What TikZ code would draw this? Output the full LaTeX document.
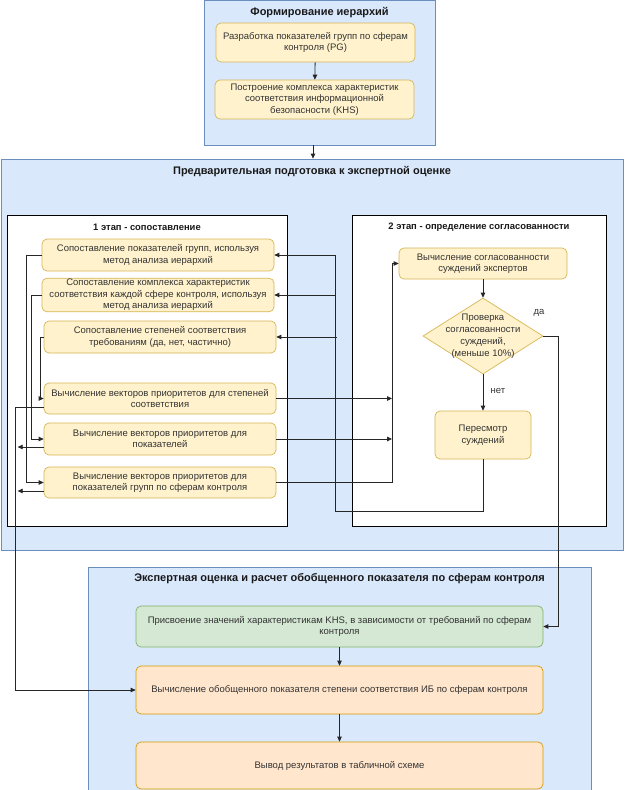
\documentclass[tikz,border=0pt]{standalone}
\usepackage{fontspec}
\setmainfont{Liberation Sans}
\usetikzlibrary{arrows.meta,shapes.geometric,calc}
\definecolor{bluef}{HTML}{DAE8FC}
\definecolor{blued}{HTML}{6C8EBF}
\definecolor{yelf}{HTML}{FFF2CC}
\definecolor{yeld}{HTML}{D6B656}
\definecolor{grf}{HTML}{D5E8D4}
\definecolor{grd}{HTML}{82B366}
\definecolor{orf}{HTML}{FFE6CC}
\definecolor{ord}{HTML}{D79B00}
\definecolor{txt}{HTML}{333333}
\tikzset{
  container/.style={draw=blued, fill=bluef, line width=0.8pt, inner sep=0pt},
  stagebox/.style={draw=black, fill=white, line width=0.9pt, inner sep=0pt},
  basebox/.style={rounded corners=5pt, line width=0.7pt, align=center,
    font=\fontsize{9.5}{11.5}\selectfont, text=txt, inner sep=1pt},
  ybox/.style={basebox, draw=yeld, fill=yelf},
  gbox/.style={basebox, draw=grd, fill=grf},
  obox/.style={basebox, draw=ord, fill=orf},
  decision/.style={diamond, draw=yeld, fill=yelf, line width=0.7pt, inner sep=0pt},
  dtext/.style={align=center, font=\fontsize{9.5}{12}\selectfont, text=txt, inner sep=0pt},
  maintitle/.style={font=\bfseries\fontsize{11}{13}\selectfont, text=black!90},
  stagetitle/.style={font=\bfseries\fontsize{9.4}{11}\selectfont, text=black!90},
  lbl/.style={font=\fontsize{9.5}{11}\selectfont, text=txt},
  arr/.style={-{Triangle[length=5pt,width=4.5pt]}, line width=0.8pt, draw=black!85},
  ln/.style={line width=0.8pt, draw=black!85}
}
\begin{document}
\begin{tikzpicture}[x=1pt,y=-1pt]
\useasboundingbox (0,0) rectangle (624,790);
\fill[white] (0,0) rectangle (624,790);

% containers
\node[container, minimum width=231pt, minimum height=145pt] (top) at (319.5,72.5) {};
\node[maintitle] (ttop) at (319.5,13) {Формирование иерархий};
\node[container, minimum width=622pt, minimum height=391pt] (prep) at (312,354.5) {};
\node[maintitle] (tprep) at (312,172) {Предварительная подготовка к экспертной оценке};
\node[stagebox, minimum width=280pt, minimum height=311pt] (st1) at (147,370.5) {};
\node[stagetitle] (tst1) at (147,227) {1 этап - сопоставление};
\node[stagebox, minimum width=254pt, minimum height=311pt] (st2) at (479,370.5) {};
\node[stagetitle] (tst2) at (479,227) {2 этап - определение согласованности};
\node[container, minimum width=503pt, minimum height=230pt] (eval) at (339.5,682) {};
\node[maintitle] (teval) at (339.5,579) {Экспертная оценка и расчет обобщенного показателя по сферам контроля};

% top boxes
\node[ybox, minimum width=199pt, minimum height=39pt] (pg) at (315.5,42.5)
  {Разработка показателей групп по сферам\\контроля (PG)};
\node[ybox, minimum width=199pt, minimum height=39pt] (khs) at (314.5,99.5)
  {Построение комплекса характеристик\\соответствия информационной\\безопасности (KHS)};

% stage 1
\node[ybox, minimum width=232pt, minimum height=32pt] (a1) at (158,255)
  {Сопоставление показателей групп, используя\\метод анализа иерархий};
\node[ybox, minimum width=232pt, minimum height=32pt] (a2) at (158,295)
  {Сопоставление комплекса характеристик\\соответствия каждой сфере контроля, используя\\метод анализа иерархий};
\node[ybox, minimum width=232pt, minimum height=32pt] (a3) at (160,337)
  {Сопоставление степеней соответствия\\требованиям (да, нет, частично)};
\node[ybox, minimum width=232pt, minimum height=31pt] (a4) at (160,398.5)
  {Вычисление векторов приоритетов для степеней\\соответствия};
\node[ybox, minimum width=232pt, minimum height=32pt] (a5) at (160,439)
  {Вычисление векторов приоритетов для\\показателей};
\node[ybox, minimum width=232pt, minimum height=31pt] (a6) at (160,482.5)
  {Вычисление векторов приоритетов для\\показателей групп по сферам контроля};

% stage 2
\node[ybox, minimum width=168pt, minimum height=31pt] (b1) at (483,263.5)
  {Вычисление согласованности\\суждений экспертов};
\node[decision, minimum width=120pt, minimum height=76pt,
  label={[dtext]center:{Проверка\\согласованности\\суждений,\\(меньше 10\%)}}] (d) at (483,336) {};
\node[ybox, minimum width=96pt, minimum height=48pt] (b3) at (483,435)
  {Пересмотр\\суждений};

% evaluation
\node[gbox, minimum width=407pt, minimum height=41pt] (c1) at (339.5,626.5)
  {Присвоение значений характеристикам KHS, в зависимости от требований по сферам\\контроля};
\node[obox, minimum width=407pt, minimum height=48pt] (c2) at (339.5,690)
  {Вычисление обобщенного показателя степени соответствия ИБ по сферам контроля};
\node[obox, minimum width=407pt, minimum height=47pt] (c3) at (339.5,765.5)
  {Вывод результатов в табличной схеме};

% connectors
\coordinate (ax) at (313,0);
\draw[arr] (pg) -- (khs);
\draw[arr] (top.south -| ax) -- (prep.north -| ax);

% left side
\draw[arr] (a1.west) -- ++(-15,0) |- (a6.west);
\draw[arr] (a2.west) -- ++(-10,0) |- (a5.west);
\draw[arr] (a3.west) -- ++(-3,0) |- (a4.west);
\draw[arr] ($(a4.west)+(0,8.5)$) -- ++(-28,0) |- (c2.west);
\draw[arr] ($(a5.west)+(0,8)$) -- ++(-26,0);
\draw[arr] ($(a6.west)+(0,8.5)$) -- ++(-26,0);

% right side (feedback)
\coordinate (vL) at (335,511);
\draw[arr] (b3.south) |- (vL) |- (a1.east);
\draw[arr] (a2.east -| vL) -- (a2.east);
\draw[arr] ($(a3.east -| vL)+(2,0)$) -- (a3.east);

% to stage 2
\coordinate (vR) at (392,0);
\draw[arr] (a4.east) -- (a4.east -| vR);
\draw[arr] (a5.east) -- (a5.east -| vR);
\draw[arr] (a6.east) -- (a6.east -| vR) |- (b1.west);

% stage 2 flow
\draw[arr] (b1) -- (d);
\draw[arr] (d) -- (b3) node[lbl, pos=0.45, right=4pt] {нет};
\draw[arr] (d.east) -- ++(15,0) |- (c1.east);
\node[lbl] (yes) at (539,313) {да};

% evaluation flow
\draw[arr] (c1) -- (c2);
\draw[arr] (c2) -- (c3);
\end{tikzpicture}
\end{document}
